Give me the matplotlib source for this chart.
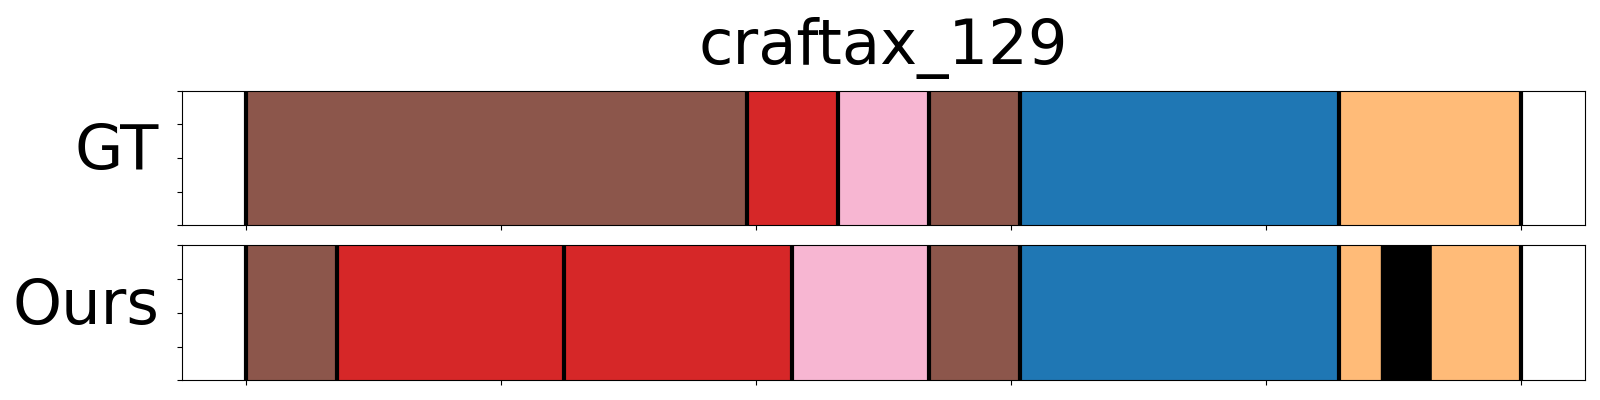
import matplotlib
matplotlib.use('Agg')
import matplotlib.pyplot as plt

# ===== DATA =====
title = 'craftax_129'
n_frames = 28

# GT segments (start frame, end frame, colour)
gt_starts = [0, 11, 13, 15, 17, 24]
gt_ends = [11, 13, 15, 17, 24, 28]
gt_colors = ['#8c564b', '#d62728', '#f7b6d2', '#8c564b', '#1f77b4', '#ffbb78']
gt_bounds = [0, 11, 13, 15, 17, 24, 28]

# Ours segments
ours_starts = [0, 2, 7, 12, 15, 17, 24, 24.93, 26.04]
ours_ends = [2, 7, 12, 15, 17, 24, 24.93, 26.04, 28]
ours_colors = ['#8c564b', '#d62728', '#d62728', '#f7b6d2', '#8c564b', '#1f77b4', '#ffbb78', '#000000', '#ffbb78']
ours_bounds = [0, 2, 7, 12, 15, 17, 24, 28]


# ===== PLOTTING =====
def draw_row(ax, starts, ends, colors, bounds, label):
    for s, e, c in zip(starts, ends, colors):
        ax.axvspan(s / n_frames, e / n_frames, color=c)
    for b in bounds:
        ax.axvline(b / n_frames, color='black', linewidth=3)
    ax.set_xlim(-0.05, 1.05)
    ax.set_ylim(0, 1)
    ax.set_xticks([0, 0.2, 0.4, 0.6, 0.8, 1.0])
    ax.set_yticks([0, 0.25, 0.5, 0.75, 1.0])
    ax.set_xticklabels([])
    ax.set_yticklabels([])
    ax.set_ylabel(label, fontsize=45, rotation=0, ha='right', va='center')
    ax.yaxis.set_label_coords(-0.016, 0.546)


fig = plt.figure(figsize=(16, 4), dpi=100)
ax1 = fig.add_axes([0.1136, 0.437, 0.8771, 0.336])
ax2 = fig.add_axes([0.1136, 0.049, 0.8771, 0.3375])

draw_row(ax1, gt_starts, gt_ends, gt_colors, gt_bounds, 'GT')
draw_row(ax2, ours_starts, ours_ends, ours_colors, ours_bounds, 'Ours')
ax1.set_title(title, fontsize=45, pad=19)

fig.savefig('out.png', dpi=100)
